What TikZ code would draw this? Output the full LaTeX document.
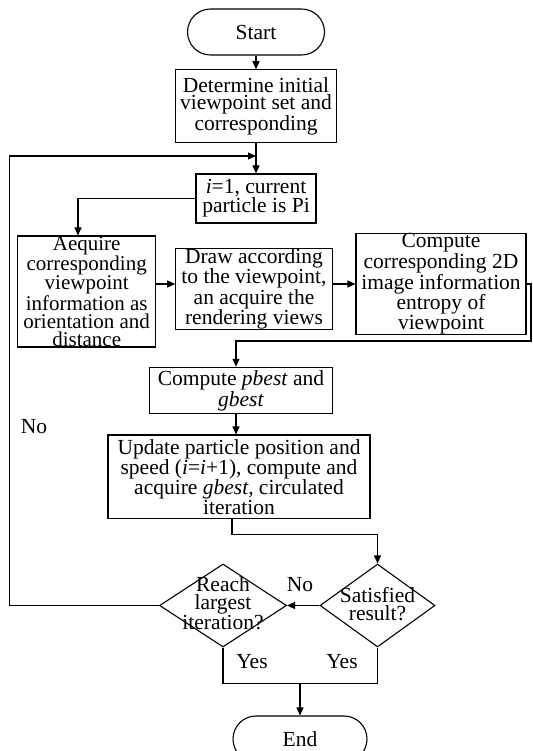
\documentclass[tikz,border=0pt]{standalone}
\usepackage{fontspec}
\setmainfont{Liberation Serif}
\usetikzlibrary{arrows.meta,shapes.geometric}
\begin{document}
\begin{tikzpicture}[x=1pt,y=-1pt,
  every node/.style={font=\fontsize{21.5}{17}\selectfont},
  box/.style={draw, line width=1.1pt, inner sep=0pt, align=center},
  term/.style={box, rounded corners=23pt},
  dia/.style={draw, diamond, line width=1.1pt, inner sep=0pt},
  txt/.style={inner sep=0pt, align=center},
  arr/.style={line width=1.1pt, -{Triangle[length=8pt,width=7pt]}},
  ln/.style={line width=1.1pt}]
\useasboundingbox (0,0) rectangle (532,751);
\clip (0,0) rectangle (532,751);
\fill[white] (0,0) rectangle (532,751);

\node[term, minimum width=137pt, minimum height=46pt] (start) at (256,32) {Start};
\node[box, minimum width=161pt, minimum height=73pt, font=\fontsize{21.5}{17.5}\selectfont] (b1) at (256,106.3)
  {Determine initial\\viewpoint set and\\corresponding};
\node[box, minimum width=120pt, minimum height=49pt, font=\fontsize{21.5}{17.5}\selectfont] (b2) at (256,198.5)
  {\textit{i}=1, current\\particle is Pi};
\node[box, minimum width=138pt, minimum height=111pt, font=\fontsize{21}{18}\selectfont] (b3) at (86.7,291.5)
  {Aequire\\corresponding\\viewpoint\\information as\\orientation and\\distance};
\node[box, minimum width=156.5pt, minimum height=81pt, font=\fontsize{21.5}{17.5}\selectfont] (b4) at (254,289)
  {Draw according\\to the viewpoint,\\an acquire the\\rendering views};
\node[box, minimum width=170pt, minimum height=96pt, font=\fontsize{21.5}{17}\selectfont] (b5) at (441,284)
  {Compute\\corresponding 2D\\image information\\entropy of\\viewpoint};
\node[box, minimum width=182.6pt, minimum height=46.6pt, font=\fontsize{21.5}{17}\selectfont] (b6) at (241,390.6)
  {Compute \textit{pbest} and\\\textit{gbest}};
\node[box, minimum width=262pt, minimum height=83.4pt, font=\fontsize{21.5}{20}\selectfont] (b7) at (239,476.7)
  {Update particle position and\\speed (\textit{i}=\textit{i}+1), compute and\\acquire \textit{gbest}, circulated\\iteration};
\node[dia, minimum width=115pt, minimum height=83pt] (d1) at (377.5,605.5) {};
\node[txt, font=\fontsize{21.5}{18}\selectfont] (d1t) at (377.5,604) {Satisfied\\result?};
\node[dia, minimum width=127pt, minimum height=83pt] (d2) at (223,605.5) {};
\node[txt, font=\fontsize{21.5}{18}\selectfont] (d2t) at (223,603) {Reach\\largest\\iteration?};
\node[term, minimum width=134pt, minimum height=46pt] (end) at (300,739) {End};

\node[txt] (no1) at (34,427) {No};
\node[txt] (no2) at (300,585) {No};
\node[txt] (yes1) at (252,662) {Yes};
\node[txt] (yes2) at (342,662) {Yes};

\coordinate (lp) at (9.5,156);
\coordinate (mj) at (256,156);
\coordinate (r1) at (531,341);
\coordinate (k1) at (232,534.5);
\coordinate (jn) at (300,683.5);

\draw[arr] (start.south) -- (b1.north);
\draw[arr] (b1.south) -- (b2.north);
\draw[arr] (d2.west) -- (d2.west -| lp) -- (lp) -- (mj);
\draw[arr] (b2.west) -| ([xshift=-8.7pt]b3.north);
\draw[arr] (b3.east |- b5.west) -- (b4.west |- b5.west);
\draw[arr] (b4.east |- b5.west) -- (b5.west);
\draw[arr] (b5.east) -| (r1) -| ([xshift=-5pt]b6.north);
\draw[arr] ([xshift=-5pt]b6.south) -- ([xshift=-5pt]b6.south |- b7.north);
\draw[arr] ([xshift=-7pt]b7.south) -- (k1) -| (d1.north);
\draw[arr] (d1.west) -- (d2.east);
\draw[ln] (d2.south) |- (jn) -| (d1.south);
\draw[arr] (jn) -- (end.north);
\end{tikzpicture}
\end{document}
